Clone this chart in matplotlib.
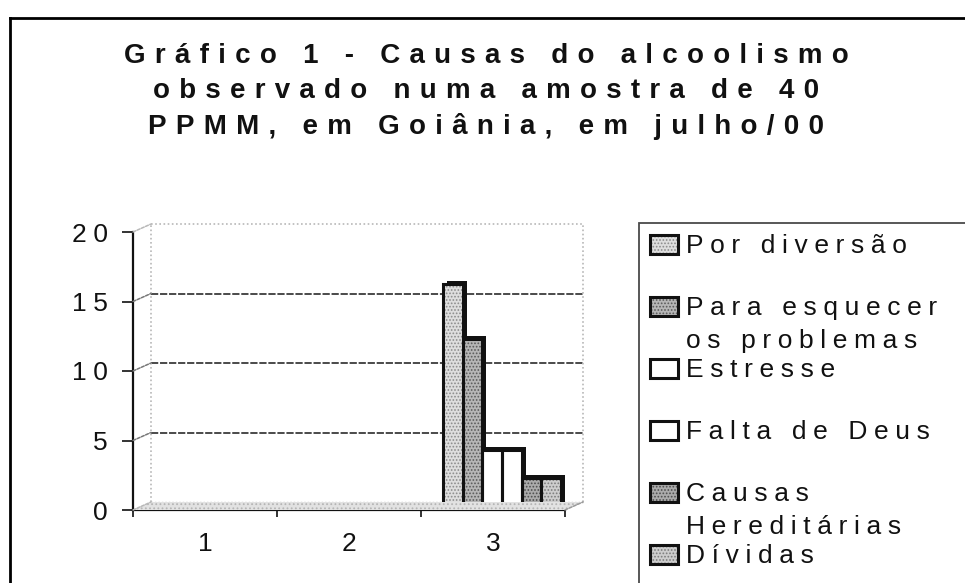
import matplotlib
matplotlib.use('Agg')
import matplotlib.pyplot as plt
from matplotlib.transforms import offset_copy, IdentityTransform
from matplotlib.patches import Rectangle, Polygon, ConnectionPatch
from matplotlib.lines import Line2D

# ---------------- data ----------------
categories = ['1', '2', '3']
positions = [1, 2, 3]
por_diversao = [0, 0, 16]
para_esquecer = [0, 0, 12]
estresse = [0, 0, 4]
falta_de_deus = [0, 0, 4]
causas_hereditarias = [0, 0, 2]
dividas = [0, 0, 2]
series_labels = ['Por diversão', 'Para esquecer\nos problemas', 'Estresse',
                 'Falta de Deus', 'Causas\nHereditárias', 'Dívidas']
y_ticks = [0, 5, 10, 15, 20]
title_lines = ['Gráfico 1 - Causas do alcoolismo',
               'observado numa amostra de 40',
               'PPMM, em Goiânia, em julho/00']

series_values = [por_diversao, para_esquecer, estresse, falta_de_deus,
                 causas_hereditarias, dividas]

# ---------------- styles ----------------
faces = ['#dedede', '#b6b6b6', '#ffffff', '#ffffff', '#ababab', '#cdcdcd']
dots = ['#8c8c8c', '#5a5a5a', None, None, '#4e4e4e', '#7c7c7c']

FONT = ['Liberation Sans', 'DejaVu Sans']
plt.rcParams['font.family'] = FONT
plt.rcParams['hatch.linewidth'] = 0.8

SP_T = '\u2004'   # letter spacing for title
SP_L = '\u2005'   # letter spacing for other texts


def spaced(s, sep):
    return '\n'.join(sep.join(line) for line in s.split('\n'))


W, H = 965, 583
fig = plt.figure(figsize=(W / 100, H / 100), dpi=100)


def fx(x):
    return x / W


def fy(y):
    return 1 - y / H


# outer frame (top and left edges visible)
fig.add_artist(Line2D([fx(10), fx(10)], [fy(18), fy(H + 5)], color='black', lw=2))
fig.add_artist(Line2D([fx(10), fx(W + 5)], [fy(18), fy(18)], color='black', lw=2))

# title
for k, line in enumerate(title_lines):
    yc = 53 + 35.5 * k
    fig.text(fx(486), fy(yc + 10), spaced(line, SP_T), ha='center', va='baseline',
             fontsize=20, fontweight='bold', color='#111111')

# ---------------- axes ----------------
ax = fig.add_axes([fx(133), fy(510), (565 - 133) / W, (510 - 232) / H])
ax.set_xlim(0.5, 3.5)
ax.set_ylim(0, 20)
ax.patch.set_visible(False)
for s in ['top', 'right']:
    ax.spines[s].set_visible(False)
ax.spines['left'].set_linewidth(1.6)
ax.spines['bottom'].set_linewidth(1.6)
ax.spines['left'].set_color('#111111')
ax.spines['bottom'].set_color('#111111')

back = offset_copy(ax.transData, fig=fig, x=18, y=8, units='dots')
mid = offset_copy(ax.transData, fig=fig, x=9, y=4, units='dots')
shadow = offset_copy(ax.transData, fig=fig, x=13, y=7, units='dots')

# floor
f = ax.transData.transform([(0.5, 0), (3.5, 0)])
b = back.transform([(0.5, 0), (3.5, 0)])
floor = Polygon([f[0], f[1], b[1], b[0]], closed=True, transform=IdentityTransform(),
                facecolor='#e2e2e2', edgecolor='#b5b5b5', hatch='....', lw=0.0)
fig.add_artist(floor)

# back wall grid lines
for v in y_ticks[1:-1]:
    ax.plot([0.5, 3.5], [v, v], transform=back, color='#3c3c3c', lw=1.3,
            ls=(0, (4, 1)), clip_on=False)
ax.plot([0.5, 3.5], [20, 20], transform=back, color='#b8b8b8', lw=1.2,
        ls=(0, (1, 1.5)), clip_on=False)
ax.plot([0.5, 0.5], [0, 20], transform=back, color='#b8b8b8', lw=1.2,
        ls=(0, (1, 1.5)), clip_on=False)
ax.plot([3.5, 3.5], [0, 20], transform=back, color='#b8b8b8', lw=1.2,
        ls=(0, (1, 1.5)), clip_on=False)
ax.plot([0.5, 3.5], [0, 0], transform=back, color='#bdbdbd', lw=1.0,
        ls=(0, (1, 1.5)), clip_on=False)
for v in y_ticks:
    col = '#b8b8b8' if v in (0, 20) else '#777777'
    cp = ConnectionPatch(xyA=(0.5, v), coordsA=ax.transData, xyB=(0.5, v), coordsB=back,
                         color=col, lw=1.1, ls=(0, (2, 1)))
    fig.add_artist(cp)
cp = ConnectionPatch(xyA=(3.5, 0), coordsA=ax.transData, xyB=(3.5, 0), coordsB=back,
                     color='#9a9a9a', lw=1.1, ls=(0, (2, 1)))
fig.add_artist(cp)

# bars
n = len(series_values)
w = 0.137
for i, vals in enumerate(series_values):
    xs = [p + (i - (n - 1) / 2) * w for p in positions]
    lws = [2.2 if v > 0 else 0 for v in vals]
    ax.bar(xs, vals, w, color='#111111', lw=0, transform=shadow, clip_on=False, zorder=3)
    if dots[i]:
        ax.bar(xs, vals, w, facecolor=faces[i], edgecolor=dots[i], hatch='.....',
               lw=0, transform=mid, clip_on=False, zorder=4)
    else:
        ax.bar(xs, vals, w, facecolor=faces[i], lw=0, transform=mid, clip_on=False, zorder=4)
    ax.bar(xs, vals, w, fill=False, edgecolor='#111111', lw=lws, transform=mid,
           clip_on=False, zorder=5)

# ticks
ax.set_yticks(y_ticks)
ax.set_yticklabels([spaced(str(v), SP_L) for v in y_ticks])
ax.tick_params(axis='y', length=8, width=1.2, pad=10, labelsize=19, colors='#111111')
ax.set_xticks(positions)
ax.set_xticklabels(categories)
ax.tick_params(axis='x', length=0, pad=16, labelsize=19, colors='#111111')
ax.set_xticks([0.5, 1.5, 2.5, 3.5], minor=True)
ax.tick_params(axis='x', which='minor', length=5, width=1.2, direction='out', color='#111111')

# ---------------- legend ----------------
fig.add_artist(Rectangle((fx(639), fy(H + 10)), (W + 10 - 639) / W, (H + 10 - 223) / H,
                         transform=fig.transFigure, fill=False, ec='#4a4a4a', lw=1.3))
for k, lab in enumerate(series_labels):
    yc = 244 + 62 * k
    if dots[k]:
        fig.add_artist(Rectangle((fx(650), fy(yc + 9.5)), 28 / W, 19 / H,
                                 transform=fig.transFigure, facecolor=faces[k],
                                 edgecolor=dots[k], hatch='.....', lw=0))
    else:
        fig.add_artist(Rectangle((fx(650), fy(yc + 9.5)), 28 / W, 19 / H,
                                 transform=fig.transFigure, facecolor=faces[k], lw=0))
    fig.add_artist(Rectangle((fx(650), fy(yc + 9.5)), 28 / W, 19 / H,
                             transform=fig.transFigure, fill=False,
                             edgecolor='#111111', lw=2.2))
    fig.text(fx(686), fy(yc - 9.7), spaced(lab, SP_L), ha='left', va='top',
             fontsize=19, linespacing=1.48, color='#111111')

fig.savefig('out.png', dpi=100)
